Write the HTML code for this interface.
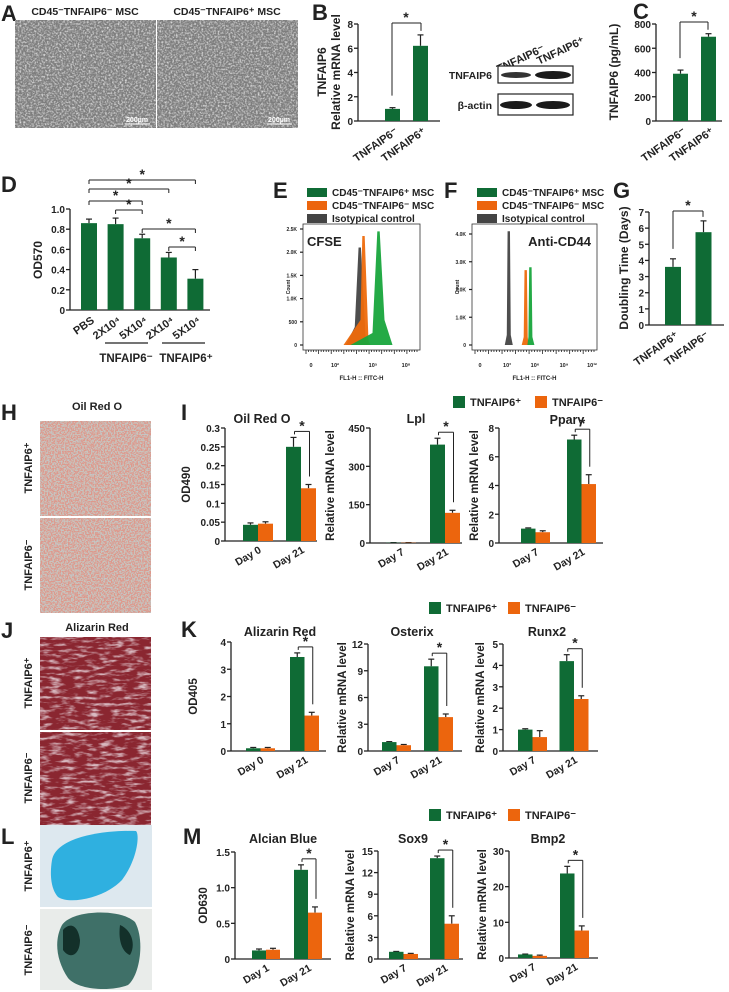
<!DOCTYPE html>
<html><head><meta charset="utf-8"><style>
html,body{margin:0;padding:0;background:#fff}
svg{display:block}
text{font-family:"Liberation Sans",Arial,sans-serif;font-weight:bold;fill:#222}
</style></head><body>
<svg id="fig" width="729" height="992" viewBox="0 0 729 992" xmlns="http://www.w3.org/2000/svg">
<defs>
<filter id="noiseGrey" x="0" y="0" width="1" height="1"><feTurbulence type="fractalNoise" baseFrequency="0.55" numOctaves="2" seed="3"/><feColorMatrix type="matrix" values="0 0 0 0 0.85  0 0 0 0 0.85  0 0 0 0 0.85  0 0 0 -2.2 1.3"/></filter>
<filter id="noiseRed" x="0" y="0" width="1" height="1"><feTurbulence type="fractalNoise" baseFrequency="0.08 0.3" numOctaves="3" seed="7"/><feColorMatrix type="matrix" values="0 0 0 0 0.85  0 0 0 0 0.75  0 0 0 0 0.8  0 0 0 -3 1.6"/></filter>
<filter id="noiseBlue" x="0" y="0" width="1" height="1"><feTurbulence type="fractalNoise" baseFrequency="0.3" numOctaves="2" seed="5"/><feColorMatrix type="matrix" values="0 0 0 0 0.5  0 0 0 0 0.6  0 0 0 0 0.65  0 0 0 -2 1.2"/></filter>
<filter id="speck" x="0" y="0" width="1" height="1"><feTurbulence type="fractalNoise" baseFrequency="0.7" numOctaves="1" seed="11"/><feColorMatrix type="matrix" values="0 0 0 0 0.85  0 0 0 0 0.2  0 0 0 0 0.15  0 0 0 -7 4.0"/></filter>
</defs>
<g id="root"></g>
</svg>
<script>
// ---------- data ----------
const bCats = ["TNFAIP6⁻","TNFAIP6⁺"];
const bVals = [1.0, 6.2];
const bErr = [0.1, 0.9];
const bTicks = [0,2,4,6,8];

const cCats = ["TNFAIP6⁻","TNFAIP6⁺"];
const cVals = [390, 695];
const cErr = [30, 25];
const cTicks = [0,200,400,600,800];

const dCats = ["PBS","2X10⁴","5X10⁴","2X10⁴","5X10⁴"];
const dVals = [0.86, 0.85, 0.71, 0.52, 0.31];
const dErr = [0.04, 0.06, 0.04, 0.05, 0.09];
const dTicks = [0,0.2,0.4,0.6,0.8,1.0];
const dTickLabels = ["0","0.2","0.4","0.6","0.8","1.0"];

const gCats = ["TNFAIP6⁺","TNFAIP6⁻"];
const gVals = [3.6, 5.75];
const gErr = [0.5, 0.7];
const gTicks = [0,1,2,3,4,5,6,7];

const eTickLabels = ["2.5K","2.0K","1.5K","1.0K","500","0"];
const eTickVals = [2500,2000,1500,1000,500,0];
const ePeakPos = [3.9, 4.2, 5.4];
const ePeakHeight = [2100, 2350, 2450];
const fTickLabels = ["4.0K","3.0K","2.0K","1.0K","0"];
const fTickVals = [4000,3000,2000,1000,0];
const fPeakPos = [3.2, 5.0, 5.5];
const fPeakHeight = [4100, 2700, 2800];

const oilCats = ["Day 0","Day 21"];
const oilPos = [0.043, 0.25]; const oilPosErr = [0.005, 0.025];
const oilNeg = [0.046, 0.14]; const oilNegErr = [0.005, 0.01];
const oilTicks = [0,0.05,0.1,0.15,0.2,0.25,0.3];
const oilTickLabels = ["0","0.05","0.1","0.15","0.2","0.25","0.3"];

const lplCats = ["Day 7","Day 21"];
const lplPos = [1, 385]; const lplPosErr = [0.5, 25];
const lplNeg = [1, 118]; const lplNegErr = [0.5, 10];
const lplTicks = [0,150,300,450];

const ppCats = ["Day 7","Day 21"];
const ppPos = [1.0, 7.2]; const ppPosErr = [0.05, 0.3];
const ppNeg = [0.75, 4.1]; const ppNegErr = [0.1, 0.65];
const ppTicks = [0,2,4,6,8];

const alzCats = ["Day 0","Day 21"];
const alzPos = [0.1, 3.45]; const alzPosErr = [0.03, 0.15];
const alzNeg = [0.1, 1.3]; const alzNegErr = [0.03, 0.12];
const alzTicks = [0,1,2,3,4];

const osxCats = ["Day 7","Day 21"];
const osxPos = [1.0, 9.5]; const osxPosErr = [0.05, 0.8];
const osxNeg = [0.65, 3.8]; const osxNegErr = [0.08, 0.35];
const osxTicks = [0,3,6,9,12];

const rnxCats = ["Day 7","Day 21"];
const rnxPos = [1.0, 4.2]; const rnxPosErr = [0.04, 0.3];
const rnxNeg = [0.65, 2.43]; const rnxNegErr = [0.3, 0.15];
const rnxTicks = [0,1,2,3,4,5];

const albCats = ["Day 1","Day 21"];
const albPos = [0.12, 1.25]; const albPosErr = [0.02, 0.07];
const albNeg = [0.13, 0.65]; const albNegErr = [0.02, 0.08];
const albTicks = [0,0.5,1.0,1.5];
const albTickLabels = ["0","0.5","1.0","1.5"];

const soxCats = ["Day 7","Day 21"];
const soxPos = [1.0, 14]; const soxPosErr = [0.05, 0.3];
const soxNeg = [0.7, 4.9]; const soxNegErr = [0.08, 1.1];
const soxTicks = [0,3,6,9,12,15];

const bmpCats = ["Day 7","Day 21"];
const bmpPos = [1.0, 23.7]; const bmpPosErr = [0.1, 2];
const bmpNeg = [0.6, 7.7]; const bmpNegErr = [0.2, 1.3];
const bmpTicks = [0,10,20,30];

// ---------- helpers ----------
const NS = "http://www.w3.org/2000/svg";
const root = document.getElementById("root");
const GREEN = "#0f6b35", ORANGE = "#ec650d";
function mk(tag, attrs, parent){
  const e = document.createElementNS(NS, tag);
  for (const k in attrs) e.setAttribute(k, attrs[k]);
  (parent||root).appendChild(e);
  return e;
}
function txt(s, x, y, size, parent, anchor, extra){
  const t = mk("text", Object.assign({x:x, y:y, "font-size":size, "text-anchor":anchor||"start"}, extra||{}), parent);
  t.textContent = s;
  return t;
}
function line(x1,y1,x2,y2,parent,w){
  return mk("line",{x1:x1,y1:y1,x2:x2,y2:y2,stroke:"#222","stroke-width":w||1.3},parent);
}
function group(name){
  const g = mk("g",{});
  
  
  return g;
}
function errBar(x, yTop, yVal, parent){
  line(x, yVal, x, yTop, parent, 1.2);
  line(x-3, yTop, x+3, yTop, parent, 1.2);
}
function star(x, y, parent){ txt("*", x, y, 14, parent, "middle"); }
function panelLetter(s, x, y){
  const t = txt(s, x, y, 22, root, "start");
  
  
}

function simpleChart(name, cats, vals, errs, ticks, tickLabels, L){
  const g = group(name);
  const sy = v => L.base - (v - ticks[0]) / (ticks[ticks.length-1] - ticks[0]) * (L.base - L.top);
  line(L.ax, L.top, L.ax, L.base, g);
  line(L.ax, L.base, L.axEnd, L.base, g);
  ticks.forEach((t,i)=>{
    line(L.ax-4, sy(t), L.ax, sy(t), g);
    txt(tickLabels ? tickLabels[i] : String(t), L.ax-5, sy(t)+4, 10, g, "end");
  });
  cats.forEach((c,i)=>{
    const x = L.x0 + i*L.step;
    errBar(x+L.bw/2, sy(vals[i]+errs[i]), sy(vals[i]), g);
    const r = mk("rect",{x:x, y:sy(vals[i]), width:L.bw, height:L.base-sy(vals[i]), fill:GREEN}, g);
    
    
    const cx = x + L.bw/2 + 6, cy = L.base + 12;
    txt(c, cx, cy, 11, g, "end", {transform:`rotate(-35 ${cx} ${cy})`});
  });
  return {g, sy};
}

function groupChart(name, cats, pos, posErr, neg, negErr, ticks, tickLabels, L){
  const g = group(name);
  const sy = v => L.base - (v - ticks[0]) / (ticks[ticks.length-1] - ticks[0]) * (L.base - L.top);
  line(L.ax, L.top, L.ax, L.base, g);
  line(L.ax, L.base, L.axEnd, L.base, g);
  ticks.forEach((t,i)=>{
    line(L.ax-4, sy(t), L.ax, sy(t), g);
    txt(tickLabels ? tickLabels[i] : String(t), L.ax-5, sy(t)+4, 10, g, "end");
  });
  cats.forEach((c,i)=>{
    const x = L.x0 + i*L.step;
    errBar(x+L.bw/2, sy(pos[i]+posErr[i]), sy(pos[i]), g);
    errBar(x+L.bw*1.5, sy(neg[i]+negErr[i]), sy(neg[i]), g);
    const r1 = mk("rect",{x:x, y:sy(pos[i]), width:L.bw, height:L.base-sy(pos[i]), fill:GREEN}, g);
    
    
    const r2 = mk("rect",{x:x+L.bw, y:sy(neg[i]), width:L.bw, height:L.base-sy(neg[i]), fill:ORANGE}, g);
    
    
    const cx = x + L.bw + 4, cy = L.base + 11;
    txt(c, cx, cy, 10.5, g, "end", {transform:`rotate(-30 ${cx} ${cy})`});
  });
  const li = cats.length-1, x = L.x0 + li*L.step;
  const yb = sy(pos[li]+posErr[li]) - 6;
  const xa = x + L.bw/2 + 1, xb = x + L.bw*1.5 + 1;
  line(xa, yb+3, xa, yb, g, 1); line(xa, yb, xb, yb, g, 1);
  line(xb, yb, xb, sy(neg[li]+negErr[li]) - 8, g, 1);
  star((xa+xb)/2, yb-1, g);
  txt(L.title, L.titleX, L.titleY, 12.5, g, "middle");
  const lx = L.ylabX, ly = (L.top + L.base)/2;
  txt(L.ylab, lx, ly, 11.5, g, "middle", {transform:`rotate(-90 ${lx} ${ly})`});
  return g;
}

function legend(y, x1, x2){
  const g = group("legend");
  const r1 = mk("rect",{x:x1, y:y-10, width:12, height:12, fill:GREEN}, g);
  
  
  txt("TNFAIP6⁺", x1+17, y, 11, g);
  const r2 = mk("rect",{x:x2, y:y-10, width:12, height:12, fill:ORANGE}, g);
  
  
  txt("TNFAIP6⁻", x2+17, y, 11, g);
}

// ---------- Panel A ----------
panelLetter("A", 1, 21);
(function(){
  const g = group("panel-a-photos");
  txt("CD45⁻TNFAIP6⁻ MSC", 85, 15, 10.5, g, "middle");
  txt("CD45⁻TNFAIP6⁺ MSC", 227, 15, 10.5, g, "middle");
  [[15,"a-photo-neg"],[157,"a-photo-pos"]].forEach(([x,n])=>{
    const r = mk("rect",{x:x,y:20,width:141,height:108,fill:"#7d7d7d"},g);
    
    
    mk("rect",{x:x,y:20,width:141,height:108,filter:"url(#noiseGrey)",opacity:0.9},g);
    line(x+110, 124, x+135, 124, g, 1).setAttribute("stroke","#fff");
    txt("200µm", x+122, 122, 7, g, "middle", {style:"fill:#fff"});
  });
})();

// ---------- Panel B ----------
panelLetter("B", 312, 20);
(function(){
  const L = {ax:358, top:24, base:121, axEnd:440, x0:385, step:28, bw:15};
  const c = simpleChart("panel-b-chart", bCats, bVals, bErr, bTicks, null, L);
  const g = c.g;
  const yb = 23;
  line(392, c.sy(bVals[0]+bErr[0])-12, 392, yb, g, 1); line(392, yb, 421, yb, g, 1); line(421, yb, 421, c.sy(bVals[1]+bErr[1])-4, g, 1);
  star(406, yb-1, g);
  txt("TNFAIP6", 326, 72, 12, g, "middle", {transform:"rotate(-90 326 72)"});
  txt("Relative mRNA level", 340, 72, 12, g, "middle", {transform:"rotate(-90 340 72)"});
  const w = group("panel-b-western");
  txt("TNFAIP6⁻", 522, 62, 11, w, "middle", {transform:"rotate(-25 522 62)"});
  txt("TNFAIP6⁺", 562, 54, 11, w, "middle", {transform:"rotate(-25 562 54)"});
  mk("rect",{x:498,y:66,width:75,height:17,fill:"#fff",stroke:"#222","stroke-width":1.2},w);
  mk("rect",{x:498,y:94,width:75,height:21,fill:"#fff",stroke:"#222","stroke-width":1.2},w);
  mk("ellipse",{cx:516,cy:75,rx:15,ry:3,fill:"#333"},w);
  mk("ellipse",{cx:553,cy:75,rx:18,ry:4,fill:"#1a1a1a"},w);
  mk("ellipse",{cx:516,cy:105,rx:16,ry:4,fill:"#1a1a1a"},w);
  mk("ellipse",{cx:553,cy:105,rx:17,ry:4,fill:"#1a1a1a"},w);
  txt("TNFAIP6", 492, 79, 10.5, w, "end");
  txt("β-actin", 492, 109, 10.5, w, "end");
})();

// ---------- Panel C ----------
panelLetter("C", 633, 19);
(function(){
  const L = {ax:656, top:24, base:121, axEnd:722, x0:673, step:28, bw:15};
  const c = simpleChart("panel-c-chart", cCats, cVals, cErr, cTicks, null, L);
  const g = c.g;
  const yb = 22;
  line(680, c.sy(cVals[0]+cErr[0])-12, 680, yb, g, 1); line(680, yb, 708, yb, g, 1); line(708, yb, 708, c.sy(cVals[1]+cErr[1])-4, g, 1);
  star(694, yb-1, g);
  txt("TNFAIP6 (pg/mL)", 618, 72, 12, g, "middle", {transform:"rotate(-90 618 72)"});
})();

// ---------- Panel D ----------
panelLetter("D", 1, 192);
(function(){
  const L = {ax:70, top:209, base:310, axEnd:210, x0:81, step:26.6, bw:16};
  const c = simpleChart("panel-d-chart", dCats, dVals, dErr, dTicks, dTickLabels, L);
  const g = c.g;
  const cx = i => L.x0 + i*L.step + L.bw/2;
  const br = [[0,4,180],[0,3,189],[0,2,201],[1,2,210],[2,4,229],[3,4,247]];
  br.forEach(([a,b,y])=>{
    line(cx(a), y+4, cx(a), y, g, 1); line(cx(a), y, cx(b), y, g, 1); line(cx(b), y, cx(b), y+4, g, 1);
    star((cx(a)+cx(b))/2, y-1, g);
  });
  line(105,343,148,343,g,1.2); line(162,343,205,343,g,1.2);
  txt("TNFAIP6⁻", 126, 362, 11.5, g, "middle");
  txt("TNFAIP6⁺", 186, 362, 11.5, g, "middle");
  txt("OD570", 42, 260, 12, g, "middle", {transform:"rotate(-90 42 260)"});
})();

// ---------- Flow histograms ----------
function flow(name, box, tickVals, tickLabels, maxV, decPx, dec0, peakPos, peakHeight, shapes, xt, label, labelX, labelAnchor){
  const g = group(name);
  mk("rect",{x:box.x, y:box.y, width:box.w, height:box.h, fill:"#fff", stroke:"#333", "stroke-width":0.8}, g);
  const base = box.base;
  const sy = v => base - v/maxV*(base - box.topV);
  const sx = d => dec0 + (d-2)*decPx;
  tickVals.forEach((v,i)=>{ line(box.x-3, sy(v), box.x, sy(v), g, 1.2); txt(tickLabels[i], box.x-6, sy(v)+2, 5, g, "end", {"font-weight":"normal"}); });
  for(let k=0;k<45;k++){ line(box.x+3+k*(box.w-6)/44, box.y+box.h, box.x+3+k*(box.w-6)/44, box.y+box.h+(k%5==0?4:2), g, 0.8); }
  const colors = ["#444","#ee6a0c","#18a53c"];
  [0,1,2].forEach(i=>{
    const p = sx(peakPos[i]), h = sy(peakHeight[i]);
    const s = shapes[i];
    const pts = `${p-s[0]},${base} ${p-s[1]},${base-s[2]} ${p-1.2},${h} ${p+1.2},${h} ${p+s[3]},${base-s[4]} ${p+s[5]},${base}`;
    const pg = mk("polygon",{points:pts, fill:colors[i], opacity:0.95}, g);
    
    
  });
  xt.forEach(([s,x])=>{ txt(s, x, box.y+box.h+17, 5.5, g, "middle", {"font-weight":"normal"}); });
  txt("FL1-H :: FITC-H", box.x+box.w/2, box.y+box.h+30, 6, g, "middle", {"font-weight":"normal"});
  txt(label, labelX, box.y+22, 13, g, labelAnchor);
  txt("Count", box.x-13, box.y+box.h/2, 5, g, "middle", {"font-weight":"normal", transform:`rotate(-90 ${box.x-13} ${box.y+box.h/2})`});
  return g;
}
function flowLegend(x, y){
  const g = group("flow-legend");
  [["CD45⁻TNFAIP6⁺ MSC",GREEN],["CD45⁻TNFAIP6⁻ MSC",ORANGE],["Isotypical control","#444"]].forEach(([s,c],i)=>{
    const r = mk("rect",{x:x, y:y+i*13-8, width:20, height:9, fill:c}, g);
    
    
    txt(s, x+25, y+i*13, 10, g);
  });
}
panelLetter("E", 273, 198);
flowLegend(307, 196);
flow("panel-e-cfse", {x:303,y:224,w:117,h:126,base:345,topV:229}, eTickVals, eTickLabels, 2500, 12.5, 336, ePeakPos, ePeakHeight,
  [[14,5,18,6,4,9],[20,3,25,5,4,7],[28,6,12,6,25,14]],
  [["0",311],["10²",335],["10⁵",373],["10⁸",406]], "CFSE", 307, "start");
panelLetter("F", 444, 198);
flowLegend(477, 196);
flow("panel-f-cd44", {x:472,y:224,w:125,h:126,base:345,topV:234}, fTickVals, fTickLabels, 4000, 9.4, 497.5, fPeakPos, fPeakHeight,
  [[4,2,10,2,10,4],[4,2,8,2,8,3],[3,2,8,2,8,4]],
  [["0",480],["10³",507],["10⁶",535],["10⁹",564],["10¹²",592]], "Anti-CD44", 591, "end");

// ---------- Panel G ----------
panelLetter("G", 613, 198);
(function(){
  const L = {ax:649, top:212, base:325, axEnd:724, x0:665, step:30.5, bw:16};
  const c = simpleChart("panel-g-chart", gCats, gVals, gErr, gTicks, null, L);
  const g = c.g;
  const yb = 211;
  line(673, c.sy(gVals[0]+gErr[0])-10, 673, yb, g, 1); line(673, yb, 703, yb, g, 1); line(703, yb, 703, c.sy(gVals[1]+gErr[1])-4, g, 1);
  star(688, yb-1, g);
  txt("Doubling Time (Days)", 628, 268, 12, g, "middle", {transform:"rotate(-90 628 268)"});
})();

// ---------- Photos H, J, L ----------
function sideLabels(g, y1, y2){
  txt("TNFAIP6⁺", 32, y1, 11, g, "middle", {transform:`rotate(-90 32 ${y1})`});
  txt("TNFAIP6⁻", 32, y2, 11, g, "middle", {transform:`rotate(-90 32 ${y2})`});
}
panelLetter("H", 1, 420);
(function(){
  const g = group("panel-h-photos");
  txt("Oil Red O", 97, 410, 11, g, "middle");
  [[421,"h-photo-pos"],[518,"h-photo-neg"]].forEach(([y,n])=>{
    const r = mk("rect",{x:40,y:y,width:111,height:95,fill:"#c9c3bb"},g);
    
    
    mk("rect",{x:40,y:y,width:111,height:95,filter:"url(#noiseBlue)",opacity:0.7},g);
    mk("rect",{x:40,y:y,width:111,height:95,filter:"url(#speck)",opacity:0.6},g);
  });
  sideLabels(g, 468, 565);
})();
panelLetter("J", 1, 638);
(function(){
  const g = group("panel-j-photos");
  txt("Alizarin Red", 97, 631, 11, g, "middle");
  [[637,"j-photo-pos"],[732,"j-photo-neg"]].forEach(([y,n])=>{
    const r = mk("rect",{x:40,y:y,width:111,height:93,fill:"#8a2630"},g);
    
    
    mk("rect",{x:40,y:y,width:111,height:93,filter:"url(#noiseRed)",opacity:0.8},g);
  });
  sideLabels(g, 683, 778);
})();
panelLetter("L", 1, 844);
(function(){
  const g = group("panel-l-photos");
  txt("Alcian Blue", 97, 838, 11, g, "middle");
  const r1 = mk("rect",{x:40,y:825,width:112,height:82,fill:"#dde8ef"},g);
  
  
  mk("path",{d:"M52,860 C56,838 100,830 136,831 C140,835 137,860 122,880 C105,898 70,905 58,897 C50,888 50,872 52,860 Z", fill:"#2fb0e0"},g);
  const r2 = mk("rect",{x:40,y:909,width:112,height:81,fill:"#e9ecea"},g);
  
  
  mk("path",{d:"M62,925 C72,910 120,908 135,922 C145,940 140,975 128,985 C110,992 78,990 68,978 C56,960 54,940 62,925 Z", fill:"#3f7068"},g);
  mk("path",{d:"M63,930 C70,922 78,925 80,940 C80,955 70,960 63,950 Z M120,925 C132,930 136,945 130,955 C122,952 118,940 120,925 Z", fill:"#13302a"},g);
  sideLabels(g, 866, 950);
})();

// ---------- Panels I, K, M ----------
panelLetter("I", 181, 420);
legend(406, 453, 535);
groupChart("panel-i-oilredo", oilCats, oilPos, oilPosErr, oilNeg, oilNegErr, oilTicks, oilTickLabels,
  {ax:225, top:428, base:541, axEnd:317, x0:243, step:43, bw:15, title:"Oil Red O", titleX:262, titleY:423, ylab:"OD490", ylabX:190});
groupChart("panel-i-lpl", lplCats, lplPos, lplPosErr, lplNeg, lplNegErr, lplTicks, null,
  {ax:370, top:428, base:543, axEnd:462, x0:386, step:44, bw:15, title:"Lpl", titleX:416, titleY:423, ylab:"Relative mRNA level", ylabX:334});
groupChart("panel-i-ppar", ppCats, ppPos, ppPosErr, ppNeg, ppNegErr, ppTicks, null,
  {ax:499, top:428, base:543, axEnd:603, x0:521, step:46, bw:14.5, title:"Pparγ", titleX:567, titleY:424, ylab:"Relative mRNA level", ylabX:478});

panelLetter("K", 181, 637);
legend(612, 429, 508);
groupChart("panel-k-alizarin", alzCats, alzPos, alzPosErr, alzNeg, alzNegErr, alzTicks, null,
  {ax:231, top:642, base:751, axEnd:326, x0:246, step:44, bw:14.5, title:"Alizarin Red", titleX:280, titleY:636, ylab:"OD405", ylabX:197});
groupChart("panel-k-osterix", osxCats, osxPos, osxPosErr, osxNeg, osxNegErr, osxTicks, null,
  {ax:368, top:644, base:751, axEnd:462, x0:382, step:42, bw:14.5, title:"Osterix", titleX:412, titleY:636, ylab:"Relative mRNA level", ylabX:346});
groupChart("panel-k-runx2", rnxCats, rnxPos, rnxPosErr, rnxNeg, rnxNegErr, rnxTicks, null,
  {ax:503, top:644, base:751, axEnd:598, x0:518, step:41.5, bw:14.5, title:"Runx2", titleX:547, titleY:636, ylab:"Relative mRNA level", ylabX:484});

panelLetter("M", 183, 844);
legend(819, 429, 508);
groupChart("panel-m-alcian", albCats, albPos, albPosErr, albNeg, albNegErr, albTicks, albTickLabels,
  {ax:235, top:852, base:959, axEnd:331, x0:252, step:42, bw:14, title:"Alcian Blue", titleX:283, titleY:843, ylab:"OD630", ylabX:207});
groupChart("panel-m-sox9", soxCats, soxPos, soxPosErr, soxNeg, soxNegErr, soxTicks, null,
  {ax:378, top:851, base:959, axEnd:463, x0:389, step:41, bw:14.5, title:"Sox9", titleX:413, titleY:843, ylab:"Relative mRNA level", ylabX:354});
groupChart("panel-m-bmp2", bmpCats, bmpPos, bmpPosErr, bmpNeg, bmpNegErr, bmpTicks, null,
  {ax:509, top:851, base:958, axEnd:598, x0:518, step:42, bw:14.5, title:"Bmp2", titleX:548, titleY:843, ylab:"Relative mRNA level", ylabX:486});
</script>
</body></html>
